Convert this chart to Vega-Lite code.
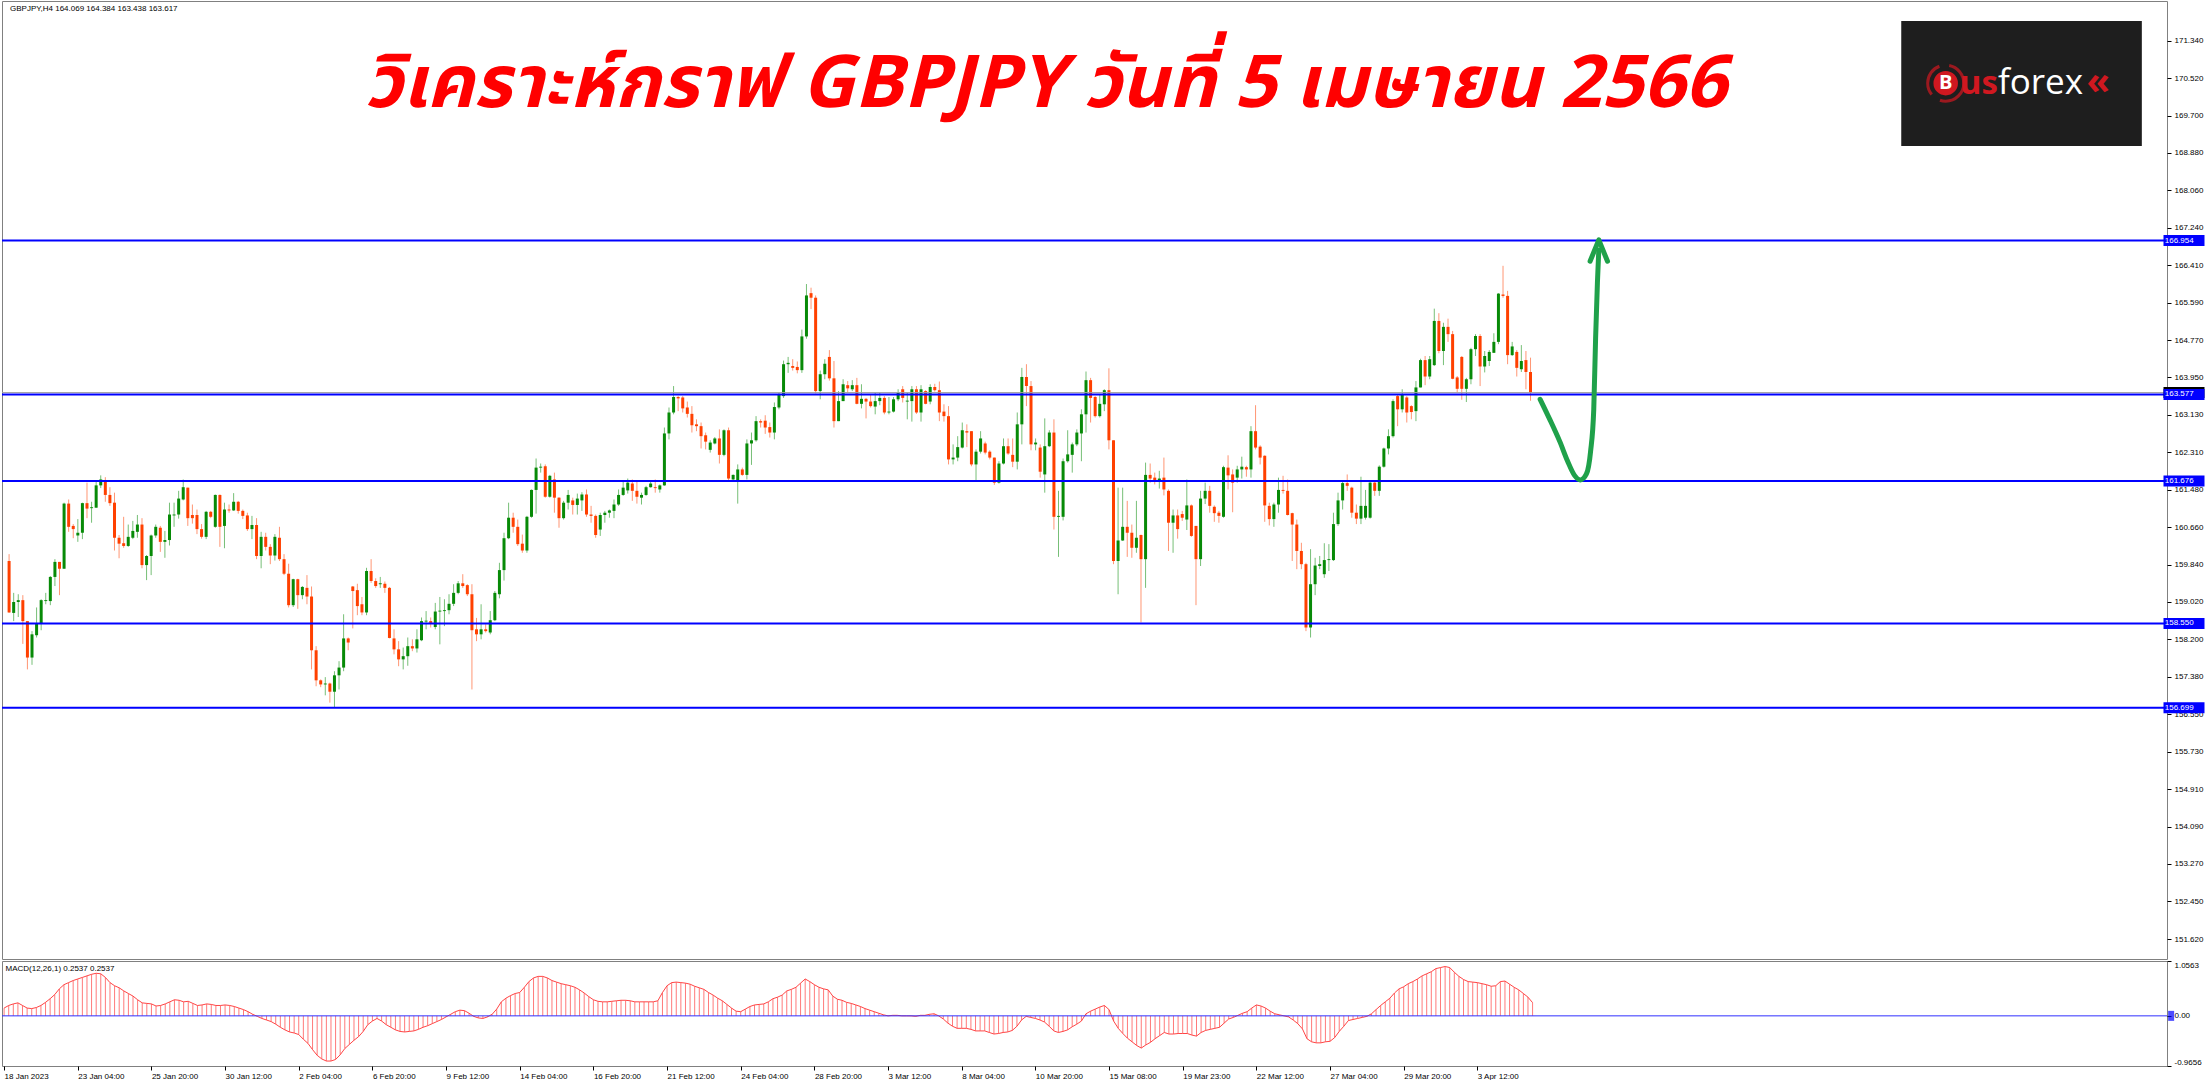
{
"$schema":"https://vega.github.io/schema/vega-lite/v6.json",
"padding":0,
"spacing":0,
"background":"white",
"config":{"view":{"stroke":"#808080","strokeWidth":1},"axis":{"labelFont":"Liberation Sans","labelFontSize":8,"labelColor":"#000000","tickColor":"#000000","domain":false,"grid":false,"labelOverlap":false}},
"datasets":{
"bars":[
{"i":0,"o":159.92,"h":160.07,"l":158.78,"c":158.79,"m":0.15},
{"i":1,"o":158.78,"h":159.22,"l":158.60,"c":159.02,"m":0.20},
{"i":2,"o":159.02,"h":159.19,"l":158.69,"c":159.06,"m":0.23},
{"i":3,"o":159.06,"h":159.17,"l":158.10,"c":158.60,"m":0.25},
{"i":4,"o":158.60,"h":158.60,"l":157.54,"c":157.80,"m":0.20},
{"i":5,"o":157.80,"h":158.38,"l":157.64,"c":158.31,"m":0.15},
{"i":6,"o":158.29,"h":158.90,"l":158.24,"c":158.54,"m":0.14},
{"i":7,"o":158.54,"h":159.08,"l":158.40,"c":159.06,"m":0.16},
{"i":8,"o":159.04,"h":159.22,"l":158.97,"c":159.06,"m":0.20},
{"i":9,"o":159.04,"h":159.59,"l":158.95,"c":159.57,"m":0.26},
{"i":10,"o":159.57,"h":159.96,"l":159.37,"c":159.90,"m":0.33},
{"i":11,"o":159.90,"h":159.90,"l":159.17,"c":159.75,"m":0.41},
{"i":12,"o":159.75,"h":161.20,"l":159.75,"c":161.18,"m":0.52},
{"i":13,"o":161.18,"h":161.27,"l":160.56,"c":160.67,"m":0.60},
{"i":14,"o":160.69,"h":160.73,"l":160.42,"c":160.62,"m":0.64},
{"i":15,"o":160.48,"h":160.84,"l":160.34,"c":160.54,"m":0.68},
{"i":16,"o":160.54,"h":161.20,"l":160.40,"c":161.19,"m":0.71},
{"i":17,"o":161.19,"h":161.64,"l":160.86,"c":161.07,"m":0.74},
{"i":18,"o":161.08,"h":161.22,"l":160.76,"c":161.10,"m":0.77},
{"i":19,"o":161.09,"h":161.69,"l":161.09,"c":161.58,"m":0.80},
{"i":20,"o":161.58,"h":161.80,"l":161.52,"c":161.71,"m":0.82},
{"i":21,"o":161.66,"h":161.76,"l":161.22,"c":161.37,"m":0.81},
{"i":22,"o":161.37,"h":161.54,"l":161.13,"c":161.19,"m":0.74},
{"i":23,"o":161.20,"h":161.42,"l":160.15,"c":160.43,"m":0.64},
{"i":24,"o":160.43,"h":160.49,"l":159.98,"c":160.30,"m":0.58},
{"i":25,"o":160.31,"h":160.89,"l":160.21,"c":160.25,"m":0.54},
{"i":26,"o":160.25,"h":160.72,"l":160.23,"c":160.45,"m":0.48},
{"i":27,"o":160.43,"h":160.80,"l":160.40,"c":160.58,"m":0.43},
{"i":28,"o":160.56,"h":160.93,"l":160.43,"c":160.72,"m":0.38},
{"i":29,"o":160.72,"h":160.86,"l":159.76,"c":159.83,"m":0.31},
{"i":30,"o":159.83,"h":160.05,"l":159.50,"c":160.03,"m":0.25},
{"i":31,"o":160.03,"h":160.50,"l":159.61,"c":160.48,"m":0.24},
{"i":32,"o":160.48,"h":160.72,"l":160.43,"c":160.67,"m":0.23},
{"i":33,"o":160.65,"h":160.69,"l":160.12,"c":160.34,"m":0.19},
{"i":34,"o":160.34,"h":160.58,"l":159.99,"c":160.38,"m":0.20},
{"i":35,"o":160.38,"h":161.20,"l":160.26,"c":160.94,"m":0.23},
{"i":36,"o":160.92,"h":161.20,"l":160.67,"c":160.94,"m":0.27},
{"i":37,"o":160.94,"h":161.46,"l":160.85,"c":161.29,"m":0.31},
{"i":38,"o":161.27,"h":161.71,"l":161.25,"c":161.54,"m":0.30},
{"i":39,"o":161.53,"h":161.53,"l":160.69,"c":160.86,"m":0.27},
{"i":40,"o":160.93,"h":161.16,"l":160.74,"c":160.86,"m":0.28},
{"i":41,"o":160.93,"h":161.05,"l":160.51,"c":160.62,"m":0.24},
{"i":42,"o":160.62,"h":160.73,"l":160.41,"c":160.45,"m":0.20},
{"i":43,"o":160.45,"h":161.02,"l":160.40,"c":161.00,"m":0.21},
{"i":44,"o":161.00,"h":161.02,"l":160.86,"c":160.89,"m":0.23},
{"i":45,"o":160.67,"h":161.38,"l":160.65,"c":161.37,"m":0.22},
{"i":46,"o":161.37,"h":161.38,"l":160.23,"c":160.67,"m":0.20},
{"i":47,"o":160.69,"h":161.20,"l":160.20,"c":161.05,"m":0.20},
{"i":48,"o":161.05,"h":161.16,"l":160.98,"c":161.03,"m":0.21},
{"i":49,"o":161.03,"h":161.41,"l":161.02,"c":161.22,"m":0.20},
{"i":50,"o":161.22,"h":161.24,"l":160.96,"c":161.02,"m":0.18},
{"i":51,"o":161.02,"h":161.05,"l":160.84,"c":160.91,"m":0.15},
{"i":52,"o":160.92,"h":160.98,"l":160.58,"c":160.62,"m":0.12},
{"i":53,"o":160.62,"h":160.91,"l":160.40,"c":160.71,"m":0.08},
{"i":54,"o":160.71,"h":160.86,"l":159.96,"c":160.03,"m":0.03},
{"i":55,"o":160.03,"h":160.56,"l":159.76,"c":160.45,"m":-0.01},
{"i":56,"o":160.45,"h":160.54,"l":160.15,"c":160.23,"m":-0.05},
{"i":57,"o":160.23,"h":160.29,"l":159.85,"c":160.04,"m":-0.08},
{"i":58,"o":160.04,"h":160.51,"l":159.93,"c":160.45,"m":-0.11},
{"i":59,"o":160.43,"h":160.67,"l":159.92,"c":159.96,"m":-0.16},
{"i":60,"o":159.96,"h":160.07,"l":159.61,"c":159.64,"m":-0.22},
{"i":61,"o":159.64,"h":159.86,"l":158.90,"c":158.95,"m":-0.27},
{"i":62,"o":158.95,"h":159.53,"l":158.91,"c":159.52,"m":-0.31},
{"i":63,"o":159.52,"h":159.53,"l":158.87,"c":159.17,"m":-0.33},
{"i":64,"o":159.17,"h":159.37,"l":159.08,"c":159.35,"m":-0.36},
{"i":65,"o":159.33,"h":159.61,"l":158.97,"c":159.14,"m":-0.45},
{"i":66,"o":159.14,"h":159.36,"l":157.54,"c":157.96,"m":-0.53},
{"i":67,"o":157.96,"h":158.05,"l":157.17,"c":157.30,"m":-0.65},
{"i":68,"o":157.30,"h":157.32,"l":157.15,"c":157.21,"m":-0.76},
{"i":69,"o":157.21,"h":157.37,"l":156.97,"c":157.23,"m":-0.83},
{"i":70,"o":157.23,"h":157.25,"l":156.81,"c":157.05,"m":-0.87},
{"i":71,"o":157.05,"h":157.50,"l":156.70,"c":157.41,"m":-0.87},
{"i":72,"o":157.41,"h":157.72,"l":157.10,"c":157.58,"m":-0.84},
{"i":73,"o":157.58,"h":158.75,"l":157.50,"c":158.22,"m":-0.75},
{"i":74,"o":158.22,"h":158.24,"l":157.96,"c":158.13,"m":-0.63},
{"i":75,"o":159.36,"h":159.37,"l":158.44,"c":159.26,"m":-0.55},
{"i":76,"o":159.28,"h":159.42,"l":158.73,"c":158.93,"m":-0.47},
{"i":77,"o":158.97,"h":159.13,"l":158.73,"c":158.79,"m":-0.40},
{"i":78,"o":158.79,"h":159.77,"l":158.73,"c":159.70,"m":-0.30},
{"i":79,"o":159.70,"h":159.96,"l":159.44,"c":159.48,"m":-0.17},
{"i":80,"o":159.48,"h":159.54,"l":159.33,"c":159.37,"m":-0.10},
{"i":81,"o":159.41,"h":159.57,"l":159.33,"c":159.43,"m":-0.05},
{"i":82,"o":159.42,"h":159.47,"l":159.22,"c":159.33,"m":-0.10},
{"i":83,"o":159.33,"h":159.35,"l":158.22,"c":158.23,"m":-0.17},
{"i":84,"o":158.22,"h":158.42,"l":157.87,"c":157.98,"m":-0.22},
{"i":85,"o":157.98,"h":158.16,"l":157.61,"c":157.76,"m":-0.27},
{"i":86,"o":157.76,"h":158.02,"l":157.54,"c":157.83,"m":-0.30},
{"i":87,"o":157.83,"h":158.24,"l":157.62,"c":158.05,"m":-0.31},
{"i":88,"o":158.05,"h":158.20,"l":157.94,"c":158.00,"m":-0.30},
{"i":89,"o":158.00,"h":158.42,"l":157.91,"c":158.20,"m":-0.29},
{"i":90,"o":158.18,"h":158.68,"l":158.16,"c":158.60,"m":-0.26},
{"i":91,"o":158.59,"h":158.82,"l":158.42,"c":158.61,"m":-0.22},
{"i":92,"o":158.60,"h":158.68,"l":158.46,"c":158.56,"m":-0.19},
{"i":93,"o":158.47,"h":159.00,"l":158.42,"c":158.81,"m":-0.15},
{"i":94,"o":158.81,"h":159.13,"l":158.09,"c":158.83,"m":-0.11},
{"i":95,"o":158.82,"h":159.08,"l":158.49,"c":158.84,"m":-0.07},
{"i":96,"o":158.84,"h":159.19,"l":158.75,"c":158.98,"m":-0.02},
{"i":97,"o":158.98,"h":159.41,"l":158.93,"c":159.22,"m":0.03},
{"i":98,"o":159.22,"h":159.48,"l":159.19,"c":159.43,"m":0.08},
{"i":99,"o":159.43,"h":159.63,"l":159.33,"c":159.37,"m":0.11},
{"i":100,"o":159.39,"h":159.41,"l":159.15,"c":159.19,"m":0.10},
{"i":101,"o":159.19,"h":159.41,"l":157.10,"c":158.40,"m":0.05},
{"i":102,"o":158.42,"h":158.67,"l":158.16,"c":158.31,"m":-0.01},
{"i":103,"o":158.31,"h":158.97,"l":158.20,"c":158.42,"m":-0.04},
{"i":104,"o":158.42,"h":158.53,"l":158.35,"c":158.38,"m":-0.05},
{"i":105,"o":158.35,"h":158.82,"l":158.31,"c":158.62,"m":-0.02},
{"i":106,"o":158.62,"h":159.26,"l":158.60,"c":159.22,"m":0.03},
{"i":107,"o":159.19,"h":159.88,"l":159.10,"c":159.72,"m":0.13},
{"i":108,"o":159.72,"h":160.54,"l":159.49,"c":160.42,"m":0.27},
{"i":109,"o":160.42,"h":161.20,"l":160.40,"c":160.87,"m":0.34},
{"i":110,"o":160.87,"h":160.98,"l":160.54,"c":160.67,"m":0.39},
{"i":111,"o":160.67,"h":160.83,"l":160.25,"c":160.29,"m":0.43},
{"i":112,"o":160.30,"h":160.50,"l":160.10,"c":160.15,"m":0.45},
{"i":113,"o":160.15,"h":160.91,"l":160.10,"c":160.89,"m":0.55},
{"i":114,"o":160.89,"h":161.49,"l":160.87,"c":161.48,"m":0.66},
{"i":115,"o":161.48,"h":162.17,"l":160.96,"c":161.97,"m":0.73},
{"i":116,"o":161.97,"h":162.06,"l":161.86,"c":161.99,"m":0.76},
{"i":117,"o":162.00,"h":162.04,"l":161.31,"c":161.33,"m":0.76},
{"i":118,"o":161.33,"h":161.81,"l":161.31,"c":161.79,"m":0.73},
{"i":119,"o":161.71,"h":161.86,"l":160.98,"c":161.31,"m":0.68},
{"i":120,"o":161.31,"h":161.32,"l":160.65,"c":160.86,"m":0.65},
{"i":121,"o":160.86,"h":161.24,"l":160.83,"c":161.20,"m":0.62},
{"i":122,"o":161.20,"h":161.48,"l":161.05,"c":161.37,"m":0.60},
{"i":123,"o":161.25,"h":161.31,"l":160.94,"c":161.15,"m":0.58},
{"i":124,"o":161.15,"h":161.40,"l":160.94,"c":161.29,"m":0.55},
{"i":125,"o":161.25,"h":161.43,"l":161.02,"c":161.38,"m":0.50},
{"i":126,"o":161.38,"h":161.49,"l":160.89,"c":160.94,"m":0.44},
{"i":127,"o":160.94,"h":161.13,"l":160.76,"c":160.91,"m":0.37},
{"i":128,"o":160.91,"h":160.94,"l":160.43,"c":160.49,"m":0.31},
{"i":129,"o":160.61,"h":160.98,"l":160.47,"c":160.93,"m":0.28},
{"i":130,"o":160.93,"h":161.02,"l":160.76,"c":160.98,"m":0.27},
{"i":131,"o":160.98,"h":161.05,"l":160.87,"c":161.03,"m":0.27},
{"i":132,"o":161.02,"h":161.27,"l":160.86,"c":161.16,"m":0.28},
{"i":133,"o":161.16,"h":161.49,"l":161.13,"c":161.37,"m":0.29},
{"i":134,"o":161.37,"h":161.66,"l":161.35,"c":161.53,"m":0.30},
{"i":135,"o":161.47,"h":161.73,"l":161.40,"c":161.64,"m":0.30},
{"i":136,"o":161.62,"h":161.71,"l":161.24,"c":161.46,"m":0.29},
{"i":137,"o":161.46,"h":161.68,"l":161.18,"c":161.33,"m":0.27},
{"i":138,"o":161.31,"h":161.42,"l":161.16,"c":161.37,"m":0.27},
{"i":139,"o":161.37,"h":161.57,"l":161.35,"c":161.54,"m":0.27},
{"i":140,"o":161.54,"h":161.66,"l":161.53,"c":161.62,"m":0.27},
{"i":141,"o":161.54,"h":161.71,"l":161.42,"c":161.52,"m":0.27},
{"i":142,"o":161.49,"h":161.60,"l":161.42,"c":161.58,"m":0.29},
{"i":143,"o":161.58,"h":162.85,"l":161.57,"c":162.72,"m":0.45},
{"i":144,"o":162.72,"h":163.29,"l":162.59,"c":163.18,"m":0.58},
{"i":145,"o":163.18,"h":163.76,"l":163.14,"c":163.52,"m":0.64},
{"i":146,"o":163.52,"h":163.54,"l":163.21,"c":163.49,"m":0.65},
{"i":147,"o":163.51,"h":163.54,"l":163.18,"c":163.27,"m":0.64},
{"i":148,"o":163.29,"h":163.42,"l":163.07,"c":163.15,"m":0.63},
{"i":149,"o":163.15,"h":163.32,"l":162.74,"c":162.90,"m":0.61},
{"i":150,"o":162.92,"h":163.03,"l":162.77,"c":162.88,"m":0.57},
{"i":151,"o":162.88,"h":162.96,"l":162.39,"c":162.66,"m":0.54},
{"i":152,"o":162.68,"h":162.74,"l":162.37,"c":162.54,"m":0.51},
{"i":153,"o":162.36,"h":162.57,"l":162.30,"c":162.52,"m":0.45},
{"i":154,"o":162.50,"h":162.64,"l":162.48,"c":162.61,"m":0.40},
{"i":155,"o":162.61,"h":162.81,"l":162.06,"c":162.25,"m":0.34},
{"i":156,"o":162.25,"h":162.81,"l":162.22,"c":162.79,"m":0.29},
{"i":157,"o":162.79,"h":162.85,"l":161.69,"c":161.73,"m":0.22},
{"i":158,"o":161.71,"h":161.82,"l":161.68,"c":161.81,"m":0.15},
{"i":159,"o":161.69,"h":162.04,"l":161.18,"c":161.93,"m":0.09},
{"i":160,"o":161.93,"h":161.97,"l":161.79,"c":161.81,"m":0.08},
{"i":161,"o":161.81,"h":162.59,"l":161.71,"c":162.50,"m":0.13},
{"i":162,"o":162.50,"h":162.74,"l":162.03,"c":162.57,"m":0.18},
{"i":163,"o":162.57,"h":163.10,"l":162.54,"c":162.99,"m":0.21},
{"i":164,"o":162.99,"h":163.03,"l":162.85,"c":162.96,"m":0.22},
{"i":165,"o":163.00,"h":163.12,"l":162.71,"c":162.85,"m":0.23},
{"i":166,"o":162.86,"h":162.96,"l":162.63,"c":162.74,"m":0.27},
{"i":167,"o":162.74,"h":163.40,"l":162.59,"c":163.30,"m":0.33},
{"i":168,"o":163.29,"h":163.61,"l":163.25,"c":163.58,"m":0.36},
{"i":169,"o":163.54,"h":164.32,"l":163.50,"c":164.24,"m":0.40},
{"i":170,"o":164.24,"h":164.40,"l":164.05,"c":164.27,"m":0.48},
{"i":171,"o":164.20,"h":164.35,"l":164.10,"c":164.16,"m":0.51},
{"i":172,"o":164.18,"h":164.30,"l":164.04,"c":164.11,"m":0.55},
{"i":173,"o":164.11,"h":165.00,"l":164.05,"c":164.85,"m":0.63},
{"i":174,"o":164.85,"h":166.00,"l":164.80,"c":165.75,"m":0.71},
{"i":175,"o":165.80,"h":165.92,"l":165.45,"c":165.70,"m":0.66},
{"i":176,"o":165.70,"h":165.75,"l":163.60,"c":163.65,"m":0.60},
{"i":177,"o":163.65,"h":164.10,"l":163.47,"c":164.02,"m":0.55},
{"i":178,"o":164.02,"h":164.35,"l":163.91,"c":164.25,"m":0.52},
{"i":179,"o":164.40,"h":164.55,"l":163.88,"c":163.93,"m":0.50},
{"i":180,"o":163.93,"h":164.31,"l":162.85,"c":162.99,"m":0.38},
{"i":181,"o":162.99,"h":163.65,"l":162.99,"c":163.43,"m":0.32},
{"i":182,"o":163.43,"h":163.91,"l":163.43,"c":163.80,"m":0.30},
{"i":183,"o":163.78,"h":163.87,"l":163.61,"c":163.71,"m":0.26},
{"i":184,"o":163.69,"h":163.89,"l":163.65,"c":163.78,"m":0.24},
{"i":185,"o":163.78,"h":163.94,"l":163.36,"c":163.37,"m":0.21},
{"i":186,"o":163.37,"h":163.80,"l":163.27,"c":163.48,"m":0.18},
{"i":187,"o":163.48,"h":163.50,"l":163.05,"c":163.42,"m":0.14},
{"i":188,"o":163.42,"h":163.58,"l":163.29,"c":163.32,"m":0.11},
{"i":189,"o":163.31,"h":163.61,"l":163.14,"c":163.43,"m":0.08},
{"i":190,"o":163.43,"h":163.61,"l":163.34,"c":163.50,"m":0.05},
{"i":191,"o":163.50,"h":163.54,"l":163.14,"c":163.18,"m":0.02},
{"i":192,"o":163.18,"h":163.52,"l":163.14,"c":163.20,"m":0.00},
{"i":193,"o":163.20,"h":163.52,"l":163.18,"c":163.47,"m":0.01},
{"i":194,"o":163.47,"h":163.69,"l":163.43,"c":163.61,"m":0.01},
{"i":195,"o":163.69,"h":163.76,"l":163.40,"c":163.50,"m":0.00},
{"i":196,"o":163.42,"h":163.61,"l":163.03,"c":163.44,"m":0.00},
{"i":197,"o":163.43,"h":163.76,"l":162.98,"c":163.69,"m":0.00},
{"i":198,"o":163.69,"h":163.76,"l":163.15,"c":163.18,"m":-0.01},
{"i":199,"o":163.18,"h":163.78,"l":162.98,"c":163.69,"m":0.01},
{"i":200,"o":163.65,"h":163.67,"l":163.36,"c":163.37,"m":0.01},
{"i":201,"o":163.42,"h":163.80,"l":163.36,"c":163.74,"m":0.03},
{"i":202,"o":163.74,"h":163.81,"l":163.64,"c":163.67,"m":0.04},
{"i":203,"o":163.67,"h":163.86,"l":162.99,"c":163.18,"m":0.00},
{"i":204,"o":163.20,"h":163.36,"l":162.98,"c":163.10,"m":-0.06},
{"i":205,"o":163.10,"h":163.32,"l":162.04,"c":162.15,"m":-0.14},
{"i":206,"o":162.15,"h":162.48,"l":162.04,"c":162.19,"m":-0.20},
{"i":207,"o":162.19,"h":162.66,"l":162.11,"c":162.42,"m":-0.24},
{"i":208,"o":162.41,"h":162.96,"l":162.39,"c":162.79,"m":-0.24},
{"i":209,"o":162.77,"h":162.92,"l":162.42,"c":162.74,"m":-0.24},
{"i":210,"o":162.77,"h":162.77,"l":162.00,"c":162.04,"m":-0.26},
{"i":211,"o":162.04,"h":162.37,"l":161.69,"c":162.32,"m":-0.29},
{"i":212,"o":162.32,"h":162.77,"l":162.28,"c":162.61,"m":-0.29},
{"i":213,"o":162.50,"h":162.54,"l":162.26,"c":162.30,"m":-0.29},
{"i":214,"o":162.32,"h":162.35,"l":162.15,"c":162.19,"m":-0.32},
{"i":215,"o":162.19,"h":162.19,"l":161.59,"c":161.64,"m":-0.35},
{"i":216,"o":161.64,"h":162.11,"l":161.62,"c":162.06,"m":-0.34},
{"i":217,"o":162.06,"h":162.61,"l":162.04,"c":162.44,"m":-0.32},
{"i":218,"o":162.44,"h":162.61,"l":162.25,"c":162.28,"m":-0.31},
{"i":219,"o":162.25,"h":162.61,"l":161.98,"c":162.10,"m":-0.28},
{"i":220,"o":162.10,"h":163.18,"l":161.93,"c":162.92,"m":-0.20},
{"i":221,"o":162.92,"h":164.16,"l":162.48,"c":163.96,"m":-0.08},
{"i":222,"o":163.96,"h":164.24,"l":163.32,"c":163.76,"m":-0.01},
{"i":223,"o":163.76,"h":163.87,"l":162.35,"c":162.48,"m":-0.03},
{"i":224,"o":162.48,"h":162.61,"l":162.35,"c":162.52,"m":-0.05},
{"i":225,"o":162.41,"h":162.48,"l":161.75,"c":161.88,"m":-0.08},
{"i":226,"o":161.82,"h":163.05,"l":161.42,"c":162.44,"m":-0.12},
{"i":227,"o":162.44,"h":162.79,"l":162.42,"c":162.74,"m":-0.20},
{"i":228,"o":162.74,"h":163.03,"l":160.61,"c":160.89,"m":-0.29},
{"i":229,"o":160.89,"h":161.46,"l":160.01,"c":160.91,"m":-0.32},
{"i":230,"o":160.89,"h":162.17,"l":160.81,"c":162.11,"m":-0.30},
{"i":231,"o":162.11,"h":162.79,"l":162.08,"c":162.26,"m":-0.27},
{"i":232,"o":162.25,"h":162.52,"l":161.86,"c":162.48,"m":-0.21},
{"i":233,"o":162.48,"h":162.81,"l":162.44,"c":162.74,"m":-0.16},
{"i":234,"o":162.72,"h":163.25,"l":162.11,"c":163.14,"m":-0.10},
{"i":235,"o":163.14,"h":164.08,"l":162.74,"c":163.89,"m":0.04},
{"i":236,"o":163.89,"h":163.94,"l":162.96,"c":163.50,"m":0.09},
{"i":237,"o":163.52,"h":163.54,"l":163.07,"c":163.10,"m":0.13},
{"i":238,"o":163.10,"h":163.58,"l":163.07,"c":163.37,"m":0.17},
{"i":239,"o":163.36,"h":163.69,"l":163.21,"c":163.67,"m":0.20},
{"i":240,"o":163.67,"h":164.15,"l":162.37,"c":162.57,"m":0.12},
{"i":241,"o":162.57,"h":162.57,"l":159.85,"c":159.92,"m":-0.10},
{"i":242,"o":159.92,"h":161.53,"l":159.19,"c":160.37,"m":-0.24},
{"i":243,"o":160.37,"h":161.53,"l":160.36,"c":160.67,"m":-0.34},
{"i":244,"o":160.67,"h":161.24,"l":160.01,"c":160.54,"m":-0.43},
{"i":245,"o":160.54,"h":160.72,"l":159.99,"c":160.21,"m":-0.50},
{"i":246,"o":160.21,"h":161.24,"l":160.10,"c":160.43,"m":-0.57},
{"i":247,"o":160.49,"h":160.50,"l":158.57,"c":159.96,"m":-0.62},
{"i":248,"o":159.96,"h":162.08,"l":159.33,"c":161.81,"m":-0.56},
{"i":249,"o":161.81,"h":162.06,"l":161.64,"c":161.73,"m":-0.51},
{"i":250,"o":161.75,"h":161.86,"l":161.60,"c":161.69,"m":-0.44},
{"i":251,"o":161.66,"h":161.90,"l":161.51,"c":161.73,"m":-0.38},
{"i":252,"o":161.75,"h":162.19,"l":161.36,"c":161.49,"m":-0.32},
{"i":253,"o":161.46,"h":161.49,"l":160.14,"c":160.76,"m":-0.35},
{"i":254,"o":160.76,"h":161.05,"l":160.10,"c":160.92,"m":-0.35},
{"i":255,"o":160.92,"h":161.05,"l":160.41,"c":160.62,"m":-0.34},
{"i":256,"o":160.95,"h":161.02,"l":160.80,"c":160.87,"m":-0.34},
{"i":257,"o":160.83,"h":161.71,"l":160.60,"c":161.14,"m":-0.34},
{"i":258,"o":161.14,"h":161.16,"l":160.45,"c":160.47,"m":-0.37},
{"i":259,"o":160.69,"h":160.69,"l":158.95,"c":159.96,"m":-0.39},
{"i":260,"o":159.96,"h":161.46,"l":159.81,"c":161.29,"m":-0.32},
{"i":261,"o":161.29,"h":161.64,"l":161.17,"c":161.46,"m":-0.28},
{"i":262,"o":161.46,"h":161.57,"l":160.98,"c":161.13,"m":-0.26},
{"i":263,"o":161.11,"h":161.14,"l":160.78,"c":160.97,"m":-0.24},
{"i":264,"o":160.98,"h":161.02,"l":160.76,"c":160.91,"m":-0.22},
{"i":265,"o":160.89,"h":162.01,"l":160.87,"c":161.98,"m":-0.14},
{"i":266,"o":161.97,"h":162.24,"l":161.49,"c":161.80,"m":-0.06},
{"i":267,"o":161.82,"h":161.93,"l":160.99,"c":161.64,"m":-0.03},
{"i":268,"o":161.75,"h":162.01,"l":161.64,"c":161.93,"m":0.01},
{"i":269,"o":161.93,"h":162.21,"l":161.73,"c":161.99,"m":0.05},
{"i":270,"o":161.98,"h":162.01,"l":161.77,"c":161.93,"m":0.08},
{"i":271,"o":161.93,"h":162.88,"l":161.75,"c":162.77,"m":0.15},
{"i":272,"o":162.77,"h":163.34,"l":162.37,"c":162.41,"m":0.21},
{"i":273,"o":162.43,"h":162.46,"l":162.04,"c":162.19,"m":0.19},
{"i":274,"o":162.23,"h":162.24,"l":160.78,"c":161.14,"m":0.15},
{"i":275,"o":161.13,"h":161.20,"l":160.70,"c":160.84,"m":0.09},
{"i":276,"o":160.84,"h":161.20,"l":160.67,"c":161.16,"m":0.04},
{"i":277,"o":161.16,"h":161.75,"l":160.98,"c":161.48,"m":0.02},
{"i":278,"o":161.48,"h":161.79,"l":161.40,"c":161.46,"m":0.00},
{"i":279,"o":161.46,"h":161.71,"l":160.92,"c":160.93,"m":-0.02},
{"i":280,"o":160.97,"h":160.98,"l":159.92,"c":160.72,"m":-0.08},
{"i":281,"o":160.72,"h":160.83,"l":159.74,"c":160.14,"m":-0.15},
{"i":282,"o":160.14,"h":160.32,"l":159.74,"c":159.85,"m":-0.25},
{"i":283,"o":159.85,"h":159.88,"l":158.38,"c":158.46,"m":-0.44},
{"i":284,"o":158.46,"h":160.18,"l":158.24,"c":159.41,"m":-0.50},
{"i":285,"o":159.41,"h":159.99,"l":159.17,"c":159.82,"m":-0.52},
{"i":286,"o":159.81,"h":160.03,"l":159.74,"c":159.85,"m":-0.52},
{"i":287,"o":159.63,"h":160.31,"l":159.55,"c":159.94,"m":-0.50},
{"i":288,"o":159.94,"h":160.29,"l":159.70,"c":159.96,"m":-0.49},
{"i":289,"o":159.94,"h":160.98,"l":159.92,"c":160.73,"m":-0.42},
{"i":290,"o":160.73,"h":161.42,"l":160.69,"c":161.25,"m":-0.30},
{"i":291,"o":161.25,"h":161.68,"l":161.05,"c":161.63,"m":-0.20},
{"i":292,"o":161.63,"h":161.82,"l":161.46,"c":161.57,"m":-0.09},
{"i":293,"o":161.53,"h":161.55,"l":160.87,"c":160.98,"m":-0.07},
{"i":294,"o":160.98,"h":161.16,"l":160.73,"c":160.85,"m":-0.05},
{"i":295,"o":160.85,"h":161.77,"l":160.73,"c":161.13,"m":-0.03},
{"i":296,"o":160.87,"h":161.48,"l":160.83,"c":161.13,"m":-0.01},
{"i":297,"o":160.87,"h":161.68,"l":160.85,"c":161.64,"m":0.04},
{"i":298,"o":161.64,"h":161.68,"l":161.35,"c":161.46,"m":0.12},
{"i":299,"o":161.46,"h":162.02,"l":161.35,"c":161.99,"m":0.20},
{"i":300,"o":161.99,"h":162.41,"l":161.97,"c":162.39,"m":0.27},
{"i":301,"o":162.39,"h":162.81,"l":162.26,"c":162.66,"m":0.34},
{"i":302,"o":162.66,"h":163.47,"l":162.63,"c":163.43,"m":0.44},
{"i":303,"o":163.54,"h":163.58,"l":162.88,"c":163.25,"m":0.52},
{"i":304,"o":163.25,"h":163.69,"l":163.18,"c":163.58,"m":0.56},
{"i":305,"o":163.51,"h":163.54,"l":162.96,"c":163.18,"m":0.62},
{"i":306,"o":163.32,"h":163.34,"l":163.03,"c":163.19,"m":0.66},
{"i":307,"o":163.21,"h":163.87,"l":162.99,"c":163.73,"m":0.71},
{"i":308,"o":163.73,"h":164.36,"l":163.73,"c":164.33,"m":0.77},
{"i":309,"o":164.33,"h":164.42,"l":163.78,"c":163.97,"m":0.81},
{"i":310,"o":163.97,"h":164.42,"l":163.91,"c":164.35,"m":0.85},
{"i":311,"o":164.22,"h":165.46,"l":164.20,"c":165.19,"m":0.91},
{"i":312,"o":165.19,"h":165.36,"l":164.48,"c":164.53,"m":0.93},
{"i":313,"o":164.53,"h":165.15,"l":164.22,"c":165.06,"m":0.95},
{"i":314,"o":165.06,"h":165.24,"l":164.73,"c":164.90,"m":0.93},
{"i":315,"o":164.90,"h":164.97,"l":163.91,"c":163.92,"m":0.84},
{"i":316,"o":163.95,"h":163.98,"l":163.62,"c":163.70,"m":0.76},
{"i":317,"o":164.40,"h":164.42,"l":163.46,"c":163.70,"m":0.70},
{"i":318,"o":163.70,"h":163.94,"l":163.41,"c":163.91,"m":0.66},
{"i":319,"o":163.91,"h":164.60,"l":163.80,"c":164.57,"m":0.65},
{"i":320,"o":164.57,"h":164.90,"l":164.42,"c":164.86,"m":0.64},
{"i":321,"o":164.86,"h":164.90,"l":163.76,"c":164.19,"m":0.62},
{"i":322,"o":164.19,"h":164.53,"l":164.06,"c":164.42,"m":0.60},
{"i":323,"o":164.31,"h":164.55,"l":164.20,"c":164.51,"m":0.57},
{"i":324,"o":164.49,"h":164.92,"l":164.49,"c":164.73,"m":0.58},
{"i":325,"o":164.73,"h":165.80,"l":164.68,"c":165.79,"m":0.66},
{"i":326,"o":165.77,"h":166.40,"l":165.70,"c":165.74,"m":0.67},
{"i":327,"o":165.74,"h":165.85,"l":164.24,"c":164.44,"m":0.61},
{"i":328,"o":164.44,"h":164.73,"l":164.42,"c":164.63,"m":0.55},
{"i":329,"o":164.51,"h":164.55,"l":163.97,"c":164.16,"m":0.50},
{"i":330,"o":164.13,"h":164.66,"l":164.07,"c":164.31,"m":0.43},
{"i":331,"o":164.33,"h":164.53,"l":163.69,"c":164.07,"m":0.36},
{"i":332,"o":164.069,"h":164.384,"l":163.438,"c":163.617,"m":0.2537}
],
"arrow":[
{"k":0,"x":334.1,"y":163.47},{"k":1,"x":336.2,"y":163.03},{"k":2,"x":338.4,"y":162.54},{"k":3,"x":340.1,"y":162.11},{"k":4,"x":341.6,"y":161.80},{"k":5,"x":342.9,"y":161.70},{"k":6,"x":344.2,"y":161.83},{"k":7,"x":345.1,"y":162.32},{"k":8,"x":345.8,"y":163.25},{"k":9,"x":346.2,"y":164.80},{"k":10,"x":346.6,"y":166.03},{"k":11,"x":346.9,"y":166.75}
],
"head":[{"k":0,"x":345.0,"y":166.50},{"k":1,"x":346.9,"y":166.97},{"k":2,"x":348.8,"y":166.50}],
"levels":[{"v":166.954},{"v":163.577},{"v":161.676},{"v":158.550},{"v":156.699}]
},
"vconcat":[
{
"width":2165,"height":958,
"layer":[
{"data":{"name":"bars"},"mark":{"type":"rule","strokeWidth":1,"opacity":0.55},
 "encoding":{
  "x":{"field":"i","type":"quantitative","scale":{"domain":[-0.456,469.8],"nice":false,"zero":false},"axis":null},
  "y":{"field":"l","type":"quantitative","scale":{"domain":[151.182,172.214],"nice":false,"zero":false},
       "axis":{"orient":"right","title":null,"values":[151.62,152.45,153.27,154.09,154.91,155.73,156.55,157.38,158.2,159.02,159.84,160.66,161.48,162.31,163.13,163.95,164.77,165.59,166.41,167.24,168.06,168.88,169.7,170.52,171.34],"tickCount":60,"format":".3f","tickSize":4,"labelPadding":3,"labels":true,"ticks":true,"labelOverlap":false}},
  "y2":{"field":"h"},
  "color":{"condition":{"test":"datum.c >= datum.o","value":"#078a07"},"value":"#ff4000"}}},
{"data":{"name":"bars"},"mark":{"type":"bar","size":3},
 "encoding":{
  "x":{"field":"i","type":"quantitative"},
  "y":{"field":"o","type":"quantitative"},
  "y2":{"field":"c"},
  "color":{"condition":{"test":"datum.c >= datum.o","value":"#078a07"},"value":"#ff4000"}}},
{"data":{"values":[{}]},"mark":{"type":"rule","color":"#a0a0a0","strokeWidth":1},
 "encoding":{"y":{"datum":163.617,"type":"quantitative"}}},
{"data":{"name":"levels"},"mark":{"type":"rule","color":"#0000ff","strokeWidth":2},
 "encoding":{"y":{"field":"v","type":"quantitative"}}},
{"data":{"name":"arrow"},"mark":{"type":"line","color":"#1fa14a","strokeWidth":5,"strokeCap":"round","interpolate":"monotone"},
 "encoding":{"x":{"field":"x","type":"quantitative"},"y":{"field":"y","type":"quantitative"},"order":{"field":"k"}}},
{"data":{"name":"head"},"mark":{"type":"line","color":"#1fa14a","strokeWidth":5,"strokeCap":"round","strokeJoin":"round"},
 "encoding":{"x":{"field":"x","type":"quantitative"},"y":{"field":"y","type":"quantitative"},"order":{"field":"k"}}},
{"data":{"values":[{}]},"mark":{"type":"text","font":"Noto Sans Thai, Noto Sans, DejaVu Sans, sans-serif","fontSize":73,"fontWeight":"bold","fontStyle":"italic","color":"#ff0000","align":"center","baseline":"middle"},
 "encoding":{"x":{"datum":226.2,"type":"quantitative"},"y":{"datum":170.36,"type":"quantitative"},"text":{"value":"วิเคราะห์กราฟ GBPJPY วันที่ 5 เมษายน 2566"}}},
{"data":{"values":[{}]},"mark":{"type":"text","font":"Liberation Sans","fontSize":8,"color":"#000000","align":"left","baseline":"middle"},
 "encoding":{"x":{"datum":0.2,"type":"quantitative"},"y":{"datum":172.03,"type":"quantitative"},"text":{"value":"GBPJPY,H4  164.069 164.384 163.438 163.617"}}},
{"data":{"values":[{}]},"mark":{"type":"rect","color":"#1e1e1e"},
 "encoding":{"x":{"datum":412.9,"type":"quantitative"},"x2":{"datum":465.4},"y":{"datum":171.774,"type":"quantitative"},"y2":{"datum":169.03}}},
{"data":{"values":[{}]},"mark":{"type":"point","shape":"circle","filled":false,"size":1300,"strokeWidth":3,"color":"#d01820","strokeDash":[34,10]},
 "encoding":{"x":{"datum":422.6,"type":"quantitative"},"y":{"datum":170.41,"type":"quantitative"}}},
{"data":{"values":[{}]},"mark":{"type":"point","shape":"circle","filled":true,"size":600,"opacity":1,"color":"#d01820"},
 "encoding":{"x":{"datum":422.6,"type":"quantitative"},"y":{"datum":170.41,"type":"quantitative"}}},
{"data":{"values":[{}]},"mark":{"type":"text","font":"Open Sans","fontSize":20,"fontWeight":"bold","color":"#ffffff","align":"center","baseline":"middle"},
 "encoding":{"x":{"datum":422.6,"type":"quantitative"},"y":{"datum":170.41,"type":"quantitative"},"text":{"value":"B"}}},
{"data":{"values":[{}]},"mark":{"type":"text","font":"Open Sans","fontSize":33,"fontWeight":"bold","color":"#d01820","align":"right","baseline":"alphabetic"},
 "encoding":{"x":{"datum":434.0,"type":"quantitative"},"y":{"datum":170.17,"type":"quantitative"},"text":{"value":"us"}}},
{"data":{"values":[{}]},"mark":{"type":"text","font":"Open Sans","fontSize":35,"color":"#ffffff","align":"left","baseline":"alphabetic"},
 "encoding":{"x":{"datum":434.0,"type":"quantitative"},"y":{"datum":170.17,"type":"quantitative"},"text":{"value":"forex"}}},
{"data":{"values":[{}]},"mark":{"type":"text","font":"Open Sans","fontSize":38,"fontWeight":"bold","color":"#d01820","align":"left","baseline":"alphabetic"},
 "encoding":{"x":{"datum":453.3,"type":"quantitative"},"y":{"datum":170.17,"type":"quantitative"},"text":{"value":"«"}}},
{"data":{"values":[{}]},"mark":{"type":"tick","orient":"horizontal","thickness":11,"size":41,"color":"#000000","opacity":1},
 "encoding":{"x":{"datum":474.6,"type":"quantitative"},"y":{"datum":163.617,"type":"quantitative"}}},
{"data":{"values":[{}]},"mark":{"type":"text","font":"Liberation Sans","fontSize":8,"color":"#ffffff","align":"left","baseline":"middle"},
 "encoding":{"x":{"datum":470.4,"type":"quantitative"},"y":{"datum":163.617,"type":"quantitative"},"text":{"value":"163.617"}}},
{"data":{"name":"levels"},"mark":{"type":"tick","orient":"horizontal","thickness":11,"size":41,"color":"#0000ff","opacity":1},
 "encoding":{"x":{"datum":474.6,"type":"quantitative"},"y":{"field":"v","type":"quantitative"}}},
{"data":{"name":"levels"},"mark":{"type":"text","font":"Liberation Sans","fontSize":8,"color":"#ffffff","align":"left","baseline":"middle"},
 "encoding":{"x":{"datum":470.4,"type":"quantitative"},"y":{"field":"v","type":"quantitative"},"text":{"field":"v","type":"quantitative","format":".3f"}}}
]
},
{
"width":2165,"height":105,
"layer":[
{"data":{"name":"bars"},"mark":{"type":"rule","color":"#ff7a7a","strokeWidth":1},
 "encoding":{
  "x":{"field":"i","type":"quantitative","scale":{"domain":[-0.456,469.8],"nice":false,"zero":false},
       "axis":{"orient":"bottom","title":null,"values":[0,16,32,48,64,80,96,112,128,144,160,176,192,208,224,240,256,272,288,304,320],"tickCount":60,
        "labelExpr":"['18 Jan 2023','23 Jan 04:00','25 Jan 20:00','30 Jan 12:00','2 Feb 04:00','6 Feb 20:00','9 Feb 12:00','14 Feb 04:00','16 Feb 20:00','21 Feb 12:00','24 Feb 04:00','28 Feb 20:00','3 Mar 12:00','8 Mar 04:00','10 Mar 20:00','15 Mar 08:00','19 Mar 23:00','22 Mar 12:00','27 Mar 04:00','29 Mar 20:00','3 Apr 12:00'][round(datum.value/16)]",
        "labelAlign":"left","labelPadding":2,"tickSize":4,"labelFlush":false,"labels":true,"ticks":true,"labelOverlap":false}},
  "y":{"field":"m","type":"quantitative","scale":{"domain":[-0.9656,1.0563],"nice":false,"zero":false},
       "axis":{"orient":"right","title":null,"values":[1.0563,0,-0.9656],"tickCount":10,"labelExpr":"datum.value == 0 ? '0.00' : (datum.value > 0 ? '1.0563' : '-0.9656')","labelFlush":true,"tickSize":4,"labelPadding":3,"labels":true,"ticks":true,"labelOverlap":false}},
  "y2":{"datum":0}}},
{"data":{"name":"bars"},"mark":{"type":"line","color":"#ff4545","strokeWidth":1},
 "encoding":{"x":{"field":"i","type":"quantitative"},"y":{"field":"m","type":"quantitative"}}},
{"data":{"values":[{}]},"mark":{"type":"rule","color":"#3030ff","strokeWidth":1},
 "encoding":{"y":{"datum":0,"type":"quantitative"}}},
{"data":{"values":[{}]},"mark":{"type":"tick","orient":"horizontal","thickness":10,"size":6,"color":"#0000ff"},
 "encoding":{"x":{"datum":470.7,"type":"quantitative"},"y":{"datum":0,"type":"quantitative"}}},
{"data":{"values":[{}]},"mark":{"type":"text","font":"Liberation Sans","fontSize":8,"color":"#000000","align":"left","baseline":"middle"},
 "encoding":{"x":{"datum":0.3,"type":"quantitative"},"y":{"datum":0.9,"type":"quantitative"},"text":{"value":"MACD(12,26,1) 0.2537 0.2537"}}}
]
}
]
}
